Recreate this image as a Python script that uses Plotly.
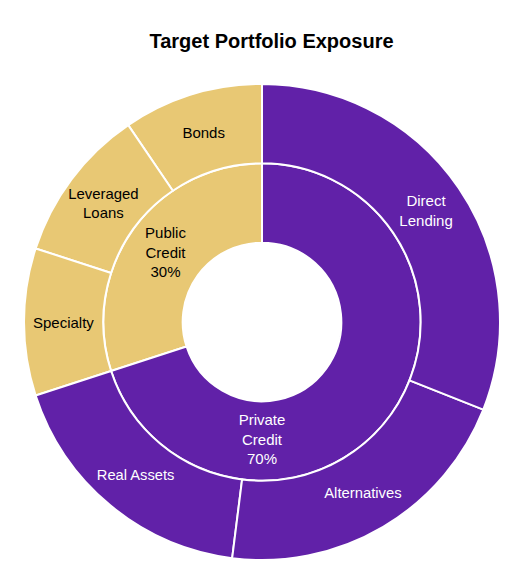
import plotly.graph_objects as go

ids = ["root", "Public", "Private", "BD", "LL", "SP", "RA", "ALT", "DL"]
labels = ["", "Public<br>Credit<br>30%", "Private<br>Credit<br>70%", "Bonds", "Leveraged<br>Loans",
          "Specialty", "Real Assets", "Alternatives", "Direct<br>Lending"]
parents = ["", "root", "root", "Public", "Public", "Public", "Private", "Private", "Private"]
values = [100, 30, 70, 9.5, 10.5, 10, 18, 21, 31]

PURPLE = "#6121A8"
GOLD = "#E8C874"
colors = ["white", GOLD, PURPLE, GOLD, GOLD, GOLD, PURPLE, PURPLE, PURPLE]
tcolors = ["white", "black", "white", "black", "black", "black", "white", "white", "white"]

fig = go.Figure(go.Sunburst(
    ids=ids, labels=labels, parents=parents, values=values,
    branchvalues="total", sort=False, rotation=90,
    leaf=dict(opacity=1),
    marker=dict(colors=colors, line=dict(color="white", width=2)),
    textfont=dict(family="Liberation Sans, Arial", size=15, color=tcolors),
    insidetextorientation="horizontal",
    hoverinfo="skip",
))
fig.update_layout(
    width=527, height=571,
    paper_bgcolor="white",
    margin=dict(l=16, r=35, t=76, b=19),
    title=dict(text="<b>Target Portfolio Exposure</b>", x=0.5, xanchor="center", y=0.955,
               font=dict(family="Liberation Sans, Arial", size=20, color="black")),
)
fig.write_html("out.html")
